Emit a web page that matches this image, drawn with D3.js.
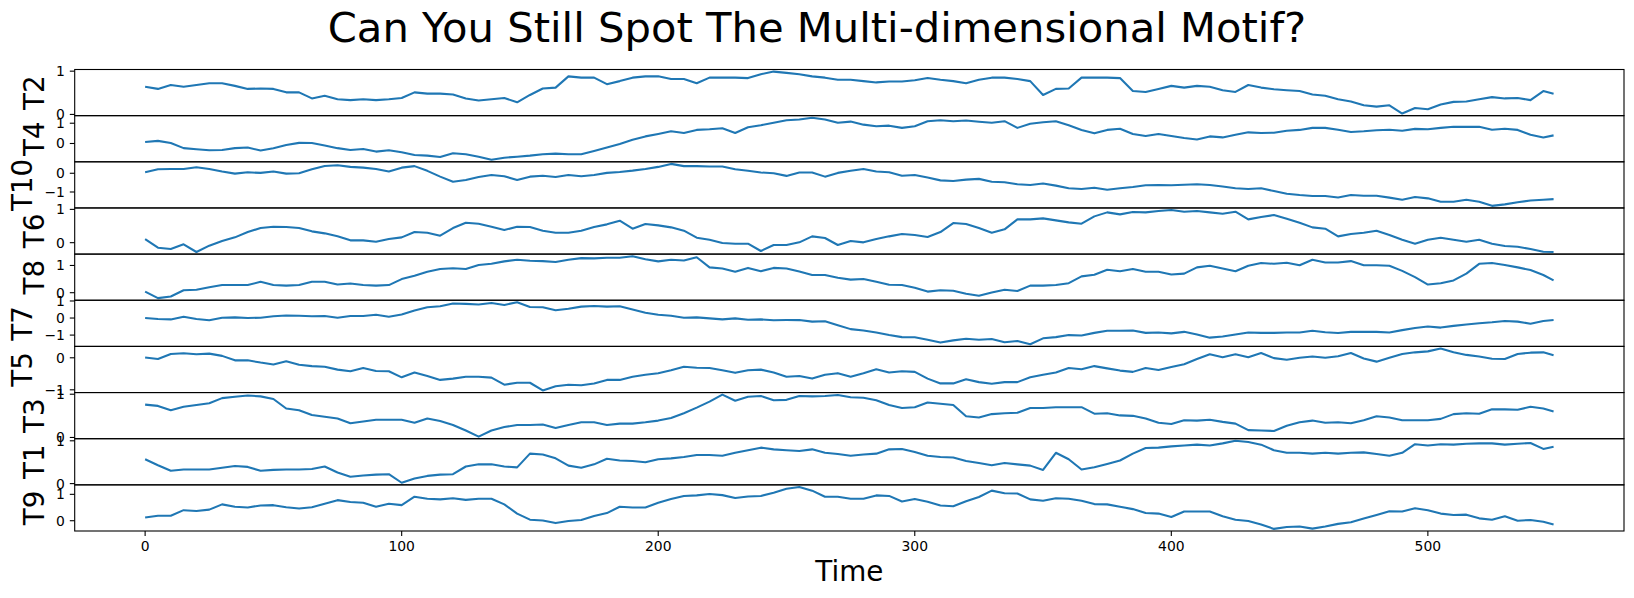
<html>
<head>
<meta charset="utf-8">
<script src="https://d3js.org/d3.v7.min.js"></script>
<style>
  body { margin: 0; background: #fff; }
  text { font-family: "DejaVu Sans", sans-serif; fill: #000; }
</style>
</head>
<body>
<svg id="chart" width="1634" height="598"></svg>
<script>
  // sampled every 5 time steps (plus the final step)
  const time = d3.range(0, 550, 5).concat([549]);

  const names = ["T2", "T4", "T10", "T6", "T8", "T7", "T5", "T3", "T1", "T9"];

  const T2 = [0.64,0.59,0.68,0.64,0.68,0.72,0.72,0.66,0.59,0.60,
    0.59,0.51,0.51,0.37,0.43,0.35,0.33,0.35,0.33,0.35,
    0.38,0.51,0.48,0.48,0.46,0.37,0.32,0.35,0.38,0.28,
    0.45,0.60,0.62,0.88,0.85,0.85,0.70,0.77,0.85,0.88,
    0.88,0.82,0.82,0.72,0.85,0.85,0.85,0.84,0.93,0.99,
    0.96,0.93,0.88,0.85,0.80,0.80,
    0.77,0.74,0.76,0.76,0.79,0.84,0.80,0.77,0.72,0.80,
    0.85,0.85,0.82,0.77,0.45,0.59,0.60,0.85,0.85,0.85,
    0.84,0.54,0.52,0.59,0.66,0.62,0.66,0.64,0.56,0.52,
    0.68,0.62,0.58,0.56,0.54,0.46,0.43,0.35,0.30,0.21,
    0.18,0.21,0.02,0.15,0.12,0.23,0.29,0.30,0.35,0.40,
    0.37,0.38,0.33,0.54,0.48];

  const T4 = [0.07,0.13,0.02,-0.23,-0.28,-0.33,-0.32,-0.23,-0.20,-0.35,
    -0.23,-0.07,0.03,0.02,-0.10,-0.23,-0.32,-0.27,-0.40,-0.33,
    -0.43,-0.57,-0.60,-0.67,-0.48,-0.53,-0.65,-0.80,-0.70,-0.65,
    -0.60,-0.53,-0.50,-0.53,-0.53,-0.37,-0.20,-0.03,0.18,0.35,
    0.47,0.60,0.52,0.67,0.70,0.75,0.52,0.80,0.90,1.02,
    1.15,1.18,1.27,1.18,1.02,1.08,
    0.93,0.85,0.88,0.77,0.85,1.10,1.15,1.10,1.13,1.07,
    1.02,1.10,0.77,0.97,1.05,1.10,0.90,0.67,0.50,0.67,
    0.73,0.47,0.37,0.47,0.37,0.27,0.20,0.35,0.30,0.43,
    0.55,0.52,0.53,0.63,0.67,0.77,0.77,0.68,0.57,0.60,
    0.65,0.68,0.63,0.72,0.70,0.77,0.83,0.82,0.83,0.68,
    0.73,0.67,0.43,0.30,0.40];

  const T10 = [0.05,0.21,0.23,0.23,0.32,0.23,0.09,-0.02,0.05,0.02,
    0.09,-0.02,0.00,0.21,0.39,0.43,0.34,0.30,0.23,0.09,
    0.30,0.38,0.13,-0.18,-0.45,-0.36,-0.20,-0.09,-0.16,-0.36,
    -0.18,-0.13,-0.20,-0.09,-0.16,-0.09,0.02,0.07,0.14,0.23,
    0.34,0.50,0.38,0.38,0.36,0.36,0.21,0.13,0.04,0.00,
    -0.14,0.04,0.04,-0.18,0.02,0.13,
    0.23,0.09,0.05,-0.13,-0.09,-0.23,-0.38,-0.41,-0.34,-0.30,
    -0.45,-0.48,-0.59,-0.63,-0.55,-0.66,-0.80,-0.84,-0.77,-0.88,
    -0.80,-0.73,-0.64,-0.63,-0.64,-0.61,-0.59,-0.63,-0.71,-0.80,
    -0.84,-0.80,-0.95,-1.09,-1.16,-1.21,-1.21,-1.29,-1.16,-1.20,
    -1.20,-1.30,-1.41,-1.27,-1.34,-1.52,-1.52,-1.41,-1.52,-1.74,
    -1.66,-1.55,-1.45,-1.41,-1.38];

  const T6 = [0.11,-0.15,-0.19,-0.05,-0.28,-0.09,0.05,0.16,0.32,0.44,
    0.48,0.47,0.44,0.34,0.28,0.19,0.07,0.07,0.03,0.11,
    0.16,0.32,0.30,0.21,0.44,0.60,0.57,0.48,0.38,0.48,
    0.47,0.36,0.30,0.30,0.36,0.47,0.55,0.66,0.42,0.56,
    0.52,0.46,0.36,0.15,0.09,-0.01,-0.03,-0.03,-0.25,-0.07,
    -0.07,0.01,0.19,0.14,-0.07,0.05,
    0.01,0.11,0.19,0.26,0.23,0.17,0.32,0.59,0.56,0.44,
    0.30,0.40,0.70,0.70,0.73,0.67,0.61,0.57,0.79,0.91,
    0.85,0.92,0.91,0.95,0.98,0.93,0.95,0.91,0.87,0.93,
    0.70,0.77,0.83,0.72,0.60,0.46,0.42,0.19,0.26,0.30,
    0.36,0.23,0.09,-0.03,0.09,0.15,0.09,0.03,0.09,-0.03,
    -0.10,-0.12,-0.19,-0.27,-0.28];

  const T8 = [0.04,-0.20,-0.14,0.09,0.11,0.20,0.28,0.28,0.28,0.40,
    0.28,0.26,0.28,0.40,0.40,0.30,0.34,0.28,0.26,0.28,
    0.50,0.62,0.77,0.87,0.90,0.87,1.02,1.06,1.15,1.21,
    1.17,1.16,1.13,1.21,1.27,1.26,1.28,1.28,1.34,1.23,
    1.15,1.21,1.18,1.30,0.93,0.89,0.77,0.91,0.79,0.91,
    0.89,0.78,0.65,0.65,0.55,0.48,
    0.50,0.40,0.29,0.28,0.18,0.04,0.09,0.07,-0.04,-0.11,
    0.01,0.11,0.06,0.26,0.26,0.28,0.35,0.60,0.66,0.84,
    0.79,0.87,0.77,0.77,0.67,0.70,0.93,0.99,0.89,0.79,
    0.99,1.09,1.06,1.10,1.01,1.21,1.11,1.11,1.16,1.01,
    1.01,0.99,0.80,0.57,0.30,0.35,0.45,0.70,1.06,1.09,
    1.02,0.93,0.83,0.65,0.45];

  const T7 = [0.00,-0.06,-0.08,0.08,-0.06,-0.13,0.02,0.04,0.00,0.02,
    0.10,0.15,0.13,0.10,0.12,0.02,0.12,0.12,0.19,0.08,
    0.21,0.44,0.63,0.69,0.85,0.83,0.79,0.88,0.77,0.92,
    0.65,0.63,0.46,0.54,0.67,0.71,0.67,0.69,0.50,0.31,
    0.19,0.13,0.02,0.04,-0.02,-0.08,-0.02,-0.10,-0.08,-0.13,
    -0.12,-0.12,-0.21,-0.19,-0.42,-0.65,
    -0.73,-0.85,-1.00,-1.12,-1.13,-1.27,-1.44,-1.31,-1.21,-1.27,
    -1.23,-1.42,-1.35,-1.54,-1.19,-1.12,-1.00,-1.02,-0.87,-0.75,
    -0.75,-0.73,-0.87,-0.85,-0.90,-0.81,-0.96,-1.15,-1.08,-0.96,
    -0.85,-0.87,-0.87,-0.85,-0.85,-0.75,-0.83,-0.88,-0.81,-0.81,
    -0.81,-0.85,-0.71,-0.58,-0.50,-0.56,-0.46,-0.38,-0.31,-0.25,
    -0.17,-0.21,-0.33,-0.17,-0.12];

  const T5 = [0.01,-0.04,0.12,0.14,0.11,0.13,0.06,-0.08,-0.08,-0.15,
    -0.21,-0.11,-0.22,-0.26,-0.28,-0.37,-0.42,-0.32,-0.41,-0.42,
    -0.61,-0.46,-0.57,-0.69,-0.65,-0.59,-0.59,-0.62,-0.84,-0.78,
    -0.78,-1.02,-0.89,-0.84,-0.86,-0.80,-0.69,-0.69,-0.59,-0.53,
    -0.48,-0.39,-0.28,-0.31,-0.32,-0.39,-0.47,-0.39,-0.37,-0.46,
    -0.59,-0.57,-0.65,-0.53,-0.48,-0.59,
    -0.48,-0.36,-0.46,-0.42,-0.44,-0.65,-0.80,-0.80,-0.67,-0.76,
    -0.81,-0.76,-0.76,-0.61,-0.53,-0.46,-0.32,-0.36,-0.26,-0.33,
    -0.40,-0.44,-0.32,-0.38,-0.29,-0.20,-0.04,0.11,0.02,0.11,
    0.02,0.15,-0.01,-0.06,0.00,0.04,0.00,0.05,0.15,-0.02,
    -0.12,0.00,0.12,0.17,0.20,0.29,0.17,0.09,0.04,-0.03,
    -0.04,0.12,0.16,0.17,0.08];

  const T3 = [0.76,0.73,0.63,0.71,0.75,0.79,0.91,0.94,0.97,0.95,
    0.89,0.67,0.63,0.52,0.48,0.44,0.33,0.37,0.41,0.41,
    0.41,0.34,0.44,0.38,0.29,0.16,0.02,0.16,0.24,0.29,
    0.29,0.30,0.22,0.29,0.35,0.35,0.29,0.32,0.32,0.35,
    0.39,0.45,0.56,0.69,0.83,0.99,0.85,0.94,0.96,0.86,
    0.87,0.96,0.95,0.96,0.98,0.93,
    0.92,0.86,0.75,0.68,0.70,0.81,0.78,0.75,0.49,0.46,
    0.54,0.56,0.57,0.68,0.68,0.70,0.70,0.70,0.55,0.56,
    0.51,0.50,0.44,0.34,0.31,0.40,0.39,0.41,0.36,0.32,
    0.17,0.16,0.15,0.27,0.35,0.39,0.34,0.35,0.33,0.40,
    0.49,0.46,0.40,0.40,0.40,0.43,0.54,0.56,0.55,0.65,
    0.65,0.64,0.71,0.67,0.60];

  const T1 = [0.57,0.43,0.30,0.33,0.33,0.33,0.37,0.41,0.39,0.30,
    0.32,0.33,0.33,0.34,0.40,0.26,0.16,0.19,0.21,0.22,
    0.02,0.12,0.18,0.21,0.22,0.40,0.45,0.45,0.40,0.38,
    0.70,0.68,0.59,0.42,0.37,0.45,0.58,0.54,0.53,0.50,
    0.57,0.59,0.62,0.67,0.67,0.65,0.72,0.78,0.84,0.80,
    0.78,0.76,0.80,0.72,0.69,0.65,
    0.68,0.70,0.80,0.81,0.74,0.65,0.62,0.61,0.53,0.48,
    0.43,0.48,0.45,0.42,0.32,0.72,0.57,0.33,0.38,0.46,
    0.54,0.70,0.83,0.84,0.87,0.89,0.91,0.89,0.94,1.00,
    0.97,0.91,0.78,0.72,0.72,0.70,0.72,0.70,0.72,0.73,
    0.69,0.65,0.72,0.92,0.89,0.92,0.91,0.93,0.94,0.94,
    0.91,0.93,0.95,0.81,0.86];

  const T9 = [0.12,0.19,0.19,0.40,0.37,0.42,0.62,0.53,0.50,0.58,
    0.59,0.51,0.46,0.51,0.64,0.78,0.71,0.68,0.53,0.64,
    0.59,0.91,0.83,0.81,0.85,0.79,0.83,0.83,0.62,0.27,
    0.04,0.01,-0.09,-0.01,0.03,0.18,0.29,0.53,0.50,0.50,
    0.68,0.82,0.94,0.96,1.01,0.97,0.86,0.92,0.94,1.06,
    1.21,1.28,1.14,0.91,0.91,0.83,
    0.83,0.96,0.94,0.73,0.82,0.72,0.58,0.55,0.74,0.90,
    1.14,1.04,1.03,0.81,0.76,0.85,0.83,0.76,0.63,0.62,
    0.53,0.44,0.29,0.27,0.14,0.35,0.35,0.35,0.17,0.04,
    -0.01,-0.14,-0.31,-0.24,-0.22,-0.30,-0.22,-0.12,-0.06,0.08,
    0.22,0.36,0.35,0.47,0.40,0.27,0.22,0.23,0.09,0.04,
    0.17,0.00,0.03,-0.04,-0.14];

  const series = [T2, T4, T10, T6, T8, T7, T5, T3, T1, T9];
  const xTicks = [0, 100, 200, 300, 400, 500];

  const title = "Can You Still Spot The Multi-dimensional Motif?";
  const xTitle = "Time";

  // layout (matplotlib-like figure)
  const W = 1634, H = 598;
  const plotL = 74.7, plotR = 1624, plotT = 69.5, plotB = 531;
  const panelH = (plotB - plotT) / series.length;
  const tickLen = 4.9, tickPad = 4.9;
  const blue = "#1f77b4";

  const svg = d3.select("#chart");

  const xExt = d3.extent(time);
  const xPad = (xExt[1] - xExt[0]) * 0.05;
  const x = d3.scaleLinear()
    .domain([xExt[0] - xPad, xExt[1] + xPad])
    .range([plotL, plotR]);

  const fmt = v => (v < 0 ? "\u2212" : "") + Math.abs(v);

  series.forEach((vals, i) => {
    const y0 = plotT + i * panelH;
    const ext = d3.extent(vals);
    const pad = (ext[1] - ext[0]) * 0.05;
    const y = d3.scaleLinear()
      .domain([ext[0] - pad, ext[1] + pad])
      .range([y0 + panelH, y0]);

    const g = svg.append("g");

    const clipId = "clip" + i;
    g.append("clipPath").attr("id", clipId)
      .append("rect")
      .attr("x", plotL).attr("y", y0)
      .attr("width", plotR - plotL).attr("height", panelH);

    const line = d3.line()
      .x((d, j) => x(time[j]))
      .y(d => y(d));

    g.append("path")
      .datum(vals)
      .attr("clip-path", "url(#" + clipId + ")")
      .attr("fill", "none")
      .attr("stroke", blue)
      .attr("stroke-width", 2.08)
      .attr("stroke-linejoin", "round")
      .attr("d", line);

    // integer ticks on each small axis
    const dom = y.domain();
    const ticks = d3.range(Math.ceil(dom[0]), Math.floor(dom[1]) + 1);
    let maxW = 0;
    ticks.forEach(t => {
      g.append("line")
        .attr("x1", plotL - tickLen).attr("x2", plotL)
        .attr("y1", y(t)).attr("y2", y(t))
        .attr("stroke", "#000").attr("stroke-width", 1.1);
      const lab = g.append("text")
        .attr("x", plotL - tickLen - tickPad)
        .attr("y", y(t) + 5)
        .attr("text-anchor", "end")
        .attr("font-size", 13.9)
        .text(fmt(t));
      maxW = Math.max(maxW, lab.node().getComputedTextLength());
    });

    g.append("text")
      .attr("transform", "translate(" + (52.7 - maxW) + "," + (y0 + panelH / 2) + ") rotate(-90)")
      .attr("text-anchor", "middle")
      .attr("font-size", 27.8)
      .text(names[i]);

    g.append("rect")
      .attr("x", plotL).attr("y", y0)
      .attr("width", plotR - plotL).attr("height", panelH)
      .attr("fill", "none")
      .attr("stroke", "#000").attr("stroke-width", 1.1);
  });

  // shared x axis on the bottom panel
  const xa = svg.append("g");
  xTicks.forEach(t => {
    xa.append("line")
      .attr("x1", x(t)).attr("x2", x(t))
      .attr("y1", plotB).attr("y2", plotB + tickLen)
      .attr("stroke", "#000").attr("stroke-width", 1.1);
    xa.append("text")
      .attr("x", x(t)).attr("y", 551)
      .attr("text-anchor", "middle")
      .attr("font-size", 13.9)
      .text(t);
  });

  svg.append("text")
    .attr("x", (plotL + plotR) / 2).attr("y", 581)
    .attr("text-anchor", "middle")
    .attr("font-size", 27.8)
    .text(xTitle);

  svg.append("text")
    .attr("x", W / 2).attr("y", 42)
    .attr("text-anchor", "middle")
    .attr("font-size", 41.7)
    .text(title);
</script>
</body>
</html>
